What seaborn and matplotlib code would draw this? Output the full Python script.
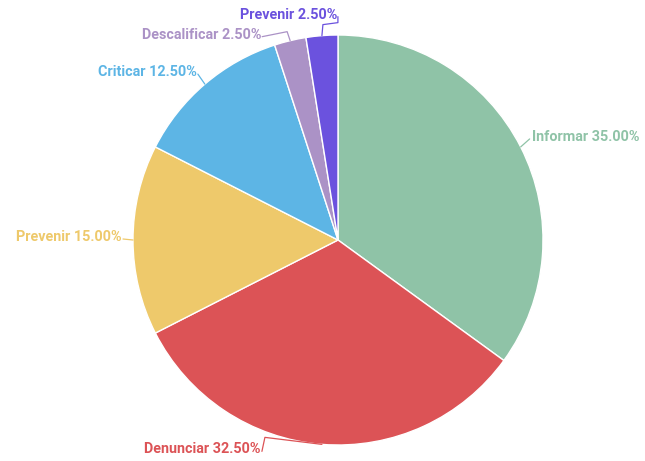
import numpy as np
import matplotlib.pyplot as plt
import seaborn as sns

# Data
labels = ["Informar", "Denunciar", "Prevenir", "Criticar", "Descalificar", "Prevenir"]
values = [35.0, 32.5, 15.0, 12.5, 2.5, 2.5]
colors = ["#8fc3a7", "#dc5356", "#eec96b", "#5db5e5", "#ab92c6", "#6b52de"]

sns.set_theme(style="white")
plt.rcParams['font.family'] = ['Roboto', 'DejaVu Sans']

fig = plt.figure(figsize=(6.45, 4.61), dpi=100)
ax = fig.add_axes([0, 0, 1, 1])

# work in pixel units so label offsets are easy to tune
cx, cy, r = 338, 221, 205
wedges, _ = ax.pie(values, colors=sns.color_palette(colors), startangle=90,
                   counterclock=False, radius=r, center=(cx, cy),
                   wedgeprops=dict(edgecolor="white", linewidth=1))
ax.set_xlim(0, 645)
ax.set_ylim(0, 461)
ax.set_aspect("equal")
ax.axis("off")

# leader line bends (offsets from the wedge edge) and text alignment
leaders = [
    ([(9, 8)], "left"),
    ([(-57, 7), (-60, -7)], "right"),
    ([(-10, 1)], "right"),
    ([(-7, 10)], "right"),
    ([(-3, 9), (-28, 4)], "right"),
    ([(1, 11), (16, 13), (16, 19)], "right"),
]

for w, lab, val, col, (pts, ha) in zip(wedges, labels, values, colors, leaders):
    theta = np.deg2rad((w.theta1 + w.theta2) / 2)
    x0, y0 = cx + r * np.cos(theta), cy + r * np.sin(theta)
    xs = [x0] + [x0 + dx for dx, dy in pts]
    ys = [y0] + [y0 + dy for dx, dy in pts]
    ax.plot(xs, ys, color=col, lw=0.9, solid_capstyle="round")
    tx = xs[-1] + (2 if ha == "left" else -1)
    ax.text(tx, ys[-1] + 2, f"{lab} {val:.2f}%", color=col, ha=ha, va="center",
            fontsize=10.4, fontweight="bold")

fig.savefig("out.png", dpi=100)
